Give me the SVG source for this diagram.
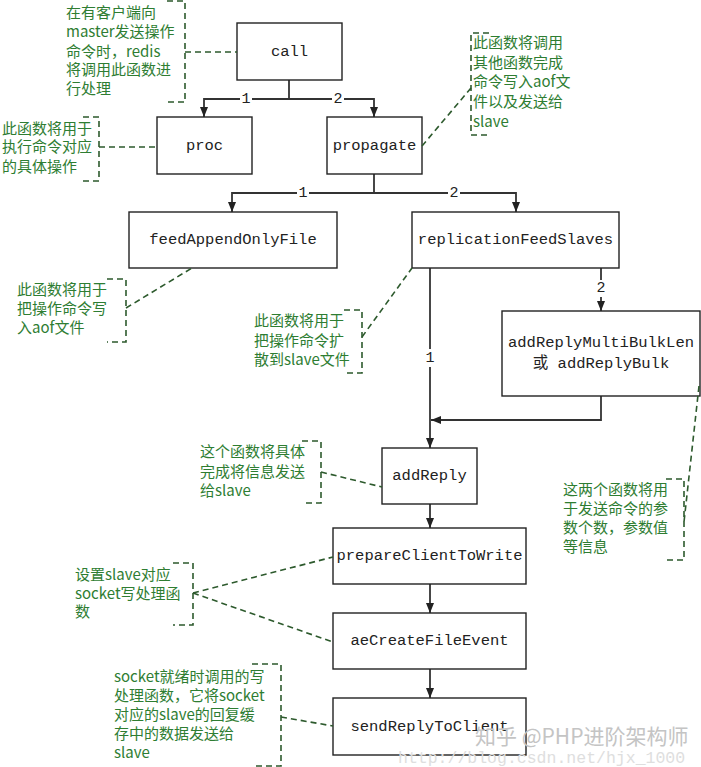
<svg xmlns="http://www.w3.org/2000/svg" width="701" height="767" viewBox="0 0 701 767">
<style>
.box{fill:#fff;stroke:#222;stroke-width:1.4}
.bt{font-family:"Liberation Mono","Noto Sans CJK SC",monospace;font-size:15.5px;fill:#222;text-anchor:middle;dominant-baseline:central}
.conn{fill:none;stroke:#333;stroke-width:1.8}
.num{font-family:"Liberation Mono",monospace;font-size:15px;fill:#222;text-anchor:middle;dominant-baseline:central}
.nbg{fill:#fff}
.dash{fill:none;stroke:#2d5a2d;stroke-width:1.6;stroke-dasharray:6 4}
.at{font-family:"Noto Sans CJK SC","Noto Sans CJK TC",sans-serif;font-size:15px;fill:#2e7d32}
.wm{font-family:"Noto Sans CJK SC",sans-serif;font-size:21px;fill:#c4c4c4}
.wm2{font-family:"Liberation Mono",monospace;font-size:16.5px;fill:#dedede}
</style>
<defs>
<marker id="arr" markerUnits="userSpaceOnUse" markerWidth="10" markerHeight="10" viewBox="0 0 10 10" refX="10" refY="5" orient="auto">
<path d="M0,1 L10,5 L0,9 Z" fill="#222"/>
</marker>
</defs>
<rect width="701" height="767" fill="#fff"/>

<g id="connectors">
<path class="conn" d="M289,80 V99 H204 V117" marker-end="url(#arr)"/>
<path class="conn" d="M289,99 H374 V117" marker-end="url(#arr)"/>
<rect class="nbg" x="240" y="91" width="12" height="16"/><text class="num" x="246" y="99">1</text>
<rect class="nbg" x="332" y="91" width="12" height="16"/><text class="num" x="338" y="99">2</text>

<path class="conn" d="M374,174 V193 H232 V212" marker-end="url(#arr)"/>
<path class="conn" d="M374,193 H516 V212" marker-end="url(#arr)"/>
<rect class="nbg" x="297" y="185" width="12" height="16"/><text class="num" x="303" y="193">1</text>
<rect class="nbg" x="448" y="185" width="12" height="16"/><text class="num" x="454" y="193">2</text>

<path class="conn" d="M430,268 V448" marker-end="url(#arr)"/>
<rect class="nbg" x="424" y="349" width="12" height="18"/><text class="num" x="430" y="358">1</text>
<path class="conn" d="M601,268 V311" marker-end="url(#arr)"/>
<rect class="nbg" x="595" y="280" width="12" height="17"/><text class="num" x="601" y="288">2</text>
<path class="conn" d="M601,396 V420 H431" marker-end="url(#arr)"/>
<path class="conn" d="M430,504 V528" marker-end="url(#arr)"/>
<path class="conn" d="M430,584 V613" marker-end="url(#arr)"/>
<path class="conn" d="M430,669 V698" marker-end="url(#arr)"/>
</g>

<g id="call"><rect class="box" x="237" y="23" width="105" height="57"/><text class="bt" x="289.5" y="51.5">call</text></g>
<g id="proc"><rect class="box" x="157" y="117" width="95" height="57"/><text class="bt" x="204.5" y="145.5">proc</text></g>
<g id="propagate"><rect class="box" x="327" y="117" width="95" height="57"/><text class="bt" x="374.5" y="145.5">propagate</text></g>
<g id="feedAppendOnlyFile"><rect class="box" x="129" y="212" width="208" height="56"/><text class="bt" x="233" y="240">feedAppendOnlyFile</text></g>
<g id="replicationFeedSlaves"><rect class="box" x="412" y="212" width="207" height="56"/><text class="bt" x="515.5" y="240">replicationFeedSlaves</text></g>
<g id="addReplyMultiBulkLen"><rect class="box" x="502" y="311" width="198" height="85"/><text class="bt" x="601" y="343">addReplyMultiBulkLen</text><text class="bt" x="601" y="364">或 addReplyBulk</text></g>
<g id="addReply"><rect class="box" x="382" y="448" width="95" height="56"/><text class="bt" x="429.5" y="476">addReply</text></g>
<g id="prepareClientToWrite"><rect class="box" x="333" y="528" width="193" height="56"/><text class="bt" x="429.5" y="556">prepareClientToWrite</text></g>
<g id="aeCreateFileEvent"><rect class="box" x="333" y="613" width="193" height="56"/><text class="bt" x="429.5" y="641">aeCreateFileEvent</text></g>
<g id="sendReplyToClient"><rect class="box" x="333" y="698" width="193" height="57"/><text class="bt" x="429.5" y="726.5">sendReplyToClient</text></g>

<g id="note-call">
<path class="dash" d="M167,1 H185 V102 H167"/>
<path class="dash" d="M185,52 H237"/>
<text class="at" x="66" y="18">在有客户端向</text>
<text class="at" x="66" y="37">master发送操作</text>
<text class="at" x="66" y="57">命令时，redis</text>
<text class="at" x="66" y="75">将调用此函数进</text>
<text class="at" x="66" y="94">行处理</text>
</g>
<g id="note-proc">
<path class="dash" d="M83,117 H99 V181 H83"/>
<path class="dash" d="M99,147 H157"/>
<text class="at" x="2" y="134">此函数将用于</text>
<text class="at" x="2" y="152">执行命令对应</text>
<text class="at" x="2" y="172">的具体操作</text>
</g>
<g id="note-propagate">
<path class="dash" d="M489,33 H471 V135 H489"/>
<path class="dash" d="M422,146 L471,88"/>
<text class="at" x="473" y="48">此函数将调用</text>
<text class="at" x="473" y="68">其他函数完成</text>
<text class="at" x="473" y="87">命令写入aof文</text>
<text class="at" x="473" y="107">件以及发送给</text>
<text class="at" x="473" y="127">slave</text>
</g>
<g id="note-feed">
<path class="dash" d="M107,279 H126 V342 H107"/>
<path class="dash" d="M126,308 L192,268"/>
<text class="at" x="17" y="295">此函数将用于</text>
<text class="at" x="17" y="314">把操作命令写</text>
<text class="at" x="17" y="333">入aof文件</text>
</g>
<g id="note-replication">
<path class="dash" d="M344,310 H362 V373 H344"/>
<path class="dash" d="M362,337 L412,268"/>
<text class="at" x="254" y="326">此函数将用于</text>
<text class="at" x="254" y="346">把操作命令扩</text>
<text class="at" x="254" y="365">散到slave文件</text>
</g>
<g id="note-multibulk">
<path class="dash" d="M666,479 H684 V560 H666"/>
<path class="dash" d="M699,386 L684,522"/>
<text class="at" x="563" y="495">这两个函数将用</text>
<text class="at" x="563" y="514">于发送命令的参</text>
<text class="at" x="563" y="533">数个数，参数值</text>
<text class="at" x="563" y="552">等信息</text>
</g>
<g id="note-addReply">
<path class="dash" d="M302,441 H321 V503 H302"/>
<path class="dash" d="M321,472 L382,487"/>
<text class="at" x="200" y="457">这个函数将具体</text>
<text class="at" x="200" y="477">完成将信息发送</text>
<text class="at" x="200" y="496">给slave</text>
</g>
<g id="note-socket">
<path class="dash" d="M173,563 H193 V625 H173"/>
<path class="dash" d="M193,593 L333,557"/>
<path class="dash" d="M193,593 L333,642"/>
<text class="at" x="75" y="580">设置slave对应</text>
<text class="at" x="75" y="599">socket写处理函</text>
<text class="at" x="75" y="617">数</text>
</g>
<g id="note-send">
<path class="dash" d="M252,664 H281 V766 H252"/>
<path class="dash" d="M281,717 L333,726"/>
<text class="at" x="114" y="682">socket就绪时调用的写</text>
<text class="at" x="114" y="701">处理函数，它将socket</text>
<text class="at" x="114" y="720">对应的slave的回复缓</text>
<text class="at" x="114" y="739">存中的数据发送给</text>
<text class="at" x="114" y="758">slave</text>
</g>

<g id="watermark">
<text class="wm2" x="398" y="763">http://blog.csdn.net/hjx_1000</text>
<text class="wm" x="475" y="744">知乎 @PHP进阶架构师</text>
</g>
</svg>
